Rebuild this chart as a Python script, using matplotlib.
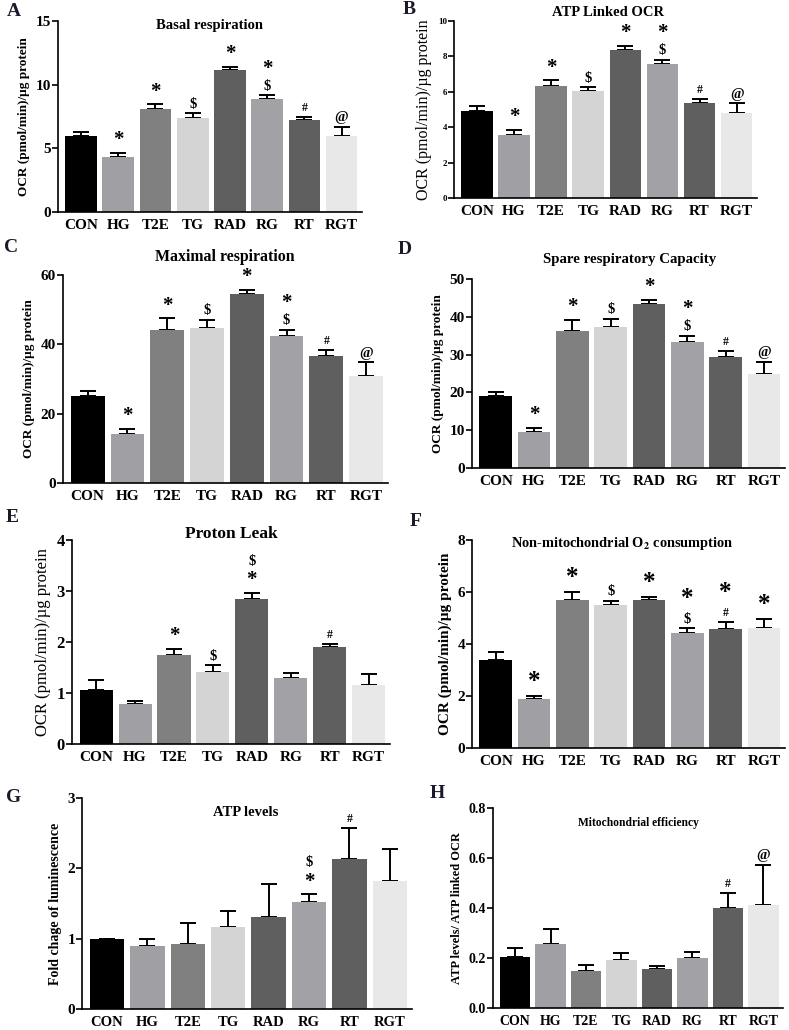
import matplotlib.pyplot as plt
import numpy as np

plt.rcParams["font.family"] = ["Liberation Serif", "DejaVu Serif"]
plt.rcParams["font.weight"] = "bold"
plt.rcParams["mathtext.fontset"] = "stix"

groups = ["CON", "HG", "T2E", "TG", "RAD", "RG", "RT", "RGT"]
bar_colors = ["#000000", "#a0a0a4", "#808080", "#d4d4d4",
              "#5f5f5f", "#a2a2a6", "#5f5f5f", "#e8e8e8"]

# A - basal respiration
basal_mean = [6.0, 4.35, 8.05, 7.4, 11.18, 8.85, 7.22, 5.97]
basal_err = [0.3, 0.28, 0.4, 0.35, 0.22, 0.3, 0.27, 0.73]
basal_marks = ["", "*", "*", "$", "*", "*$", "#", "@"]

# B - ATP linked OCR
atp_ocr_mean = [4.9, 3.58, 6.34, 6.04, 8.36, 7.57, 5.34, 4.83]
atp_ocr_err = [0.29, 0.25, 0.3, 0.21, 0.22, 0.22, 0.24, 0.51]
atp_ocr_marks = ["", "*", "*", "$", "*", "*$", "#", "@"]

# C - maximal respiration
maximal_mean = [25.0, 14.0, 44.2, 44.6, 54.4, 42.3, 36.7, 30.8]
maximal_err = [1.5, 1.5, 3.3, 2.4, 1.4, 1.9, 1.8, 4.0]
maximal_marks = ["", "*", "*", "$", "*", "*$", "#", "@"]

# D - spare respiratory capacity
spare_mean = [19.0, 9.5, 36.2, 37.2, 43.3, 33.3, 29.4, 24.8]
spare_err = [1.2, 1.2, 3.0, 2.2, 1.1, 1.7, 1.6, 3.2]
spare_marks = ["", "*", "*", "$", "*", "*$", "#", "@"]

# E - proton leak
leak_mean = [1.06, 0.78, 1.74, 1.41, 2.85, 1.30, 1.90, 1.16]
leak_err = [0.19, 0.055, 0.13, 0.13, 0.11, 0.09, 0.07, 0.22]
leak_marks = ["", "", "*", "$", "$*", "", "#", ""]

# F - non-mitochondrial O2 consumption
nonmito_mean = [3.39, 1.89, 5.69, 5.51, 5.71, 4.42, 4.58, 4.62]
nonmito_err = [0.31, 0.11, 0.31, 0.14, 0.11, 0.18, 0.27, 0.36]
nonmito_marks = ["", "*", "*", "$", "*", "*$", "*#", "*"]

# G - ATP levels
atp_mean = [1.0, 0.89, 0.93, 1.16, 1.31, 1.52, 2.13, 1.815]
atp_err = [0.0, 0.11, 0.29, 0.24, 0.47, 0.11, 0.44, 0.455]
atp_marks = ["", "", "", "", "", "$*", "#", ""]

# H - mitochondrial efficiency
eff_mean = [0.204, 0.257, 0.147, 0.193, 0.156, 0.200, 0.401, 0.413]
eff_err = [0.035, 0.059, 0.025, 0.026, 0.013, 0.024, 0.058, 0.16]
eff_marks = ["", "", "", "", "", "", "#", "@"]

fig = plt.figure(figsize=(7.89, 10.30), dpi=100)
W, H = 789.0, 1030.0


def add_axes(left, right, top, bottom):
    return fig.add_axes([left / W, 1 - bottom / H, (right - left) / W, (bottom - top) / H])


mark_size = {"*": 15, "$": 10.5, "#": 8.5, "@": 10.5}
mark_step = {"*": 16, "$": 10, "#": 10, "@": 12}


def panel(ax, means, errs, marks, ymax, yticks, ylabel, title, title_xy,
          letter, letter_xy, ylabel_size=9.5, ylabel_weight="bold",
          title_size=10, ytick_size=11, xtick_size=11, star=15,
          yfmt="{:g}"):
    x = np.arange(len(groups))
    ax.bar(x, means, width=0.85, color=bar_colors, zorder=2)
    ax.errorbar(x, means, yerr=[np.zeros(len(errs)), errs], fmt="none",
                ecolor="black", elinewidth=1.4, capsize=5.5, capthick=1.4,
                zorder=1)
    for i, (m, e, s) in enumerate(zip(means, errs, marks)):
        off = 2
        for ch in reversed(s):
            fs = star if ch == "*" else mark_size[ch]
            ax.annotate(ch, xy=(i, m + e), xytext=(0, off),
                        textcoords="offset points", ha="center", va="bottom",
                        fontsize=fs, fontweight="bold", annotation_clip=False)
            off += mark_step[ch] + (star - 15) * 0.4
    ax.set_xlim(-0.62, 7.55)
    ax.set_ylim(0, ymax)
    ax.set_yticks(yticks)
    ax.set_yticklabels([yfmt.format(t) for t in yticks], fontsize=ytick_size,
                       fontweight="bold")
    ax.set_xticks(x)
    ax.set_xticklabels(groups, fontsize=xtick_size, fontweight="bold")
    ax.spines["top"].set_visible(False)
    ax.spines["right"].set_visible(False)
    ax.spines["left"].set_linewidth(1.2)
    ax.spines["bottom"].set_linewidth(1.2)
    ax.tick_params(axis="y", length=4, width=1.2, pad=1)
    ax.tick_params(axis="x", length=0, pad=5)
    ax.set_ylabel(ylabel, fontsize=ylabel_size, fontweight=ylabel_weight,
                  labelpad=4)
    fig.text(title_xy[0] / W, 1 - title_xy[1] / H, title, ha="center",
             va="center", fontsize=title_size, fontweight="bold")
    fig.text(letter_xy[0] / W, 1 - letter_xy[1] / H, letter, ha="left",
             va="center", fontsize=14, fontweight="bold", color="#1a1a2a")


ocr_label = "OCR (pmol/min)/\u00b5g protein"

axA = add_axes(58, 362, 21, 212)
panel(axA, basal_mean, basal_err, basal_marks, 15, [0, 5, 10, 15], ocr_label,
      "Basal respiration", (210, 26), "A", (7, 11), title_size=10.5)

axB = add_axes(454, 757, 21, 198)
panel(axB, atp_ocr_mean, atp_ocr_err, atp_ocr_marks, 10, [0, 2, 4, 6, 8, 10],
      ocr_label, "ATP Linked OCR", (608, 12), "B", (403, 9),
      ylabel_size=11.5, ylabel_weight="normal", title_size=10.5, ytick_size=6.5)

axC = add_axes(63, 388, 275, 483)
panel(axC, maximal_mean, maximal_err, maximal_marks, 60, [0, 20, 40, 60],
      ocr_label, "Maximal respiration", (225, 257), "C", (4, 247),
      title_size=11.4)

axD = add_axes(472, 785, 279, 468)
panel(axD, spare_mean, spare_err, spare_marks, 50, [0, 10, 20, 30, 40, 50],
      ocr_label, "Spare respiratory Capacity", (630, 260), "D", (398, 250),
      ytick_size=11, title_size=10.7)

axE = add_axes(72, 390, 540, 744)
panel(axE, leak_mean, leak_err, leak_marks, 4, [0, 1, 2, 3, 4], ocr_label,
      "Proton Leak", (231, 534), "E", (6, 518), ylabel_size=12,
      ylabel_weight="normal", title_size=12.5, ytick_size=12)

axF = add_axes(472, 785, 540, 748)
panel(axF, nonmito_mean, nonmito_err, nonmito_marks, 8, [0, 2, 4, 6, 8],
      ocr_label, r"Non-mitochondrial O$_{\mathbf{2}}$ consumption", (622, 543),
      "F", (410, 521), ylabel_size=11, title_size=10.4, ytick_size=11, star=18)

axG = add_axes(82, 412, 798, 1009)
panel(axG, atp_mean, atp_err, atp_marks, 3, [0, 1, 2, 3],
      "Fold chage of luminescence", "ATP levels", (246, 813), "G", (6, 798),
      ylabel_size=10, title_size=10.5, ytick_size=11, xtick_size=10.5)

axH = add_axes(493, 783, 808, 1008)
panel(axH, eff_mean, eff_err, eff_marks, 0.8, [0.0, 0.2, 0.4, 0.6, 0.8],
      "ATP levels/ ATP linked OCR", "Mitochondrial efficiency", (638, 823),
      "H", (430, 793), ylabel_size=9, title_size=8.3, ytick_size=10,
      xtick_size=10, yfmt="{:.1f}")

fig.savefig("out.png", dpi=100)
